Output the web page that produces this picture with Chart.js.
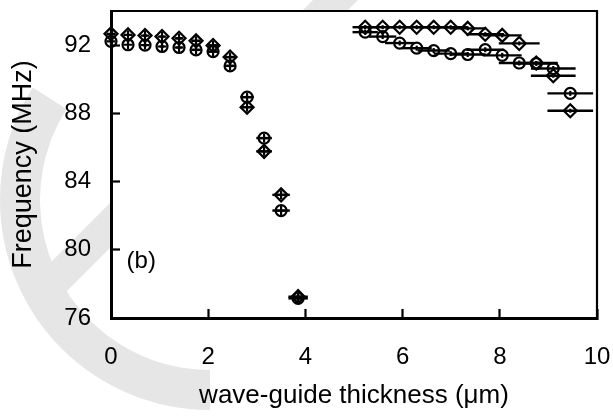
<!DOCTYPE html>
<html>
<head>
<meta charset="utf-8">
<script src="https://cdn.jsdelivr.net/npm/chart.js@4.4.1/dist/chart.umd.min.js"></script>
<style>
  html, body { margin: 0; padding: 0; background: #fff; }
  #wrap { width: 613px; height: 416px; }
</style>
</head>
<body>
<div id="wrap"><canvas id="chart" width="613" height="416"></canvas></div>
<script>
// 左側（薄い導波路）
var xLeft = [0, 0.35, 0.7, 1.05, 1.4, 1.75, 2.1, 2.45, 2.8, 3.15, 3.5, 3.85];
var circleLeft = [92.22, 92.02, 92.0, 91.92, 91.86, 91.72, 91.62, 90.78, 88.95, 86.55, 82.3, 77.15];
var diamondLeft = [92.66, 92.6, 92.56, 92.5, 92.4, 92.25, 91.98, 91.3, 88.36, 85.77, 83.22, 77.25];
var errLeft = [0, 0.02, 0.04, 0.05, 0.07, 0.09, 0.1, 0.12, 0.14, 0.16, 0.18, 0.2];

// 右側（厚い導波路）
var xRight = [5.23, 5.59, 5.94, 6.29, 6.64, 6.99, 7.34, 7.7, 8.05, 8.4, 8.75, 9.1, 9.45];
var circleRight = [92.76, 92.5, 92.12, 91.82, 91.68, 91.5, 91.45, 91.73, 91.4, 90.95, 90.92, 90.63, 89.17];
var diamondRight = [93.05, 93.05, 93.05, 93.05, 93.05, 93.05, 92.98, 92.64, 92.57, 92.1, 90.95, 90.2, 88.15];
var errRight = [0.26, 0.28, 0.3, 0.31, 0.33, 0.35, 0.37, 0.39, 0.4, 0.42, 0.44, 0.46, 0.47];

var xTicks = [0, 2, 4, 6, 8, 10];
var yTicks = [76, 80, 84, 88, 92];

var FONT = 'Liberation Sans, Arial, sans-serif';

function pts(xs, ys) {
  return xs.map(function(x, i) { return { x: x, y: ys[i] }; });
}

function marker(data, style, radius, extra) {
  var ds = {
    data: data,
    showLine: false,
    pointStyle: style,
    pointRadius: radius,
    pointHoverRadius: radius,
    pointBorderWidth: 2.2,
    pointBorderColor: '#000',
    pointBackgroundColor: 'rgba(0,0,0,0)',
    clip: false
  };
  Object.keys(extra || {}).forEach(function(k) { ds[k] = extra[k]; });
  return ds;
}

// ラベル分の余白を取らせない
function noPad(s) {
  s.paddingLeft = 0;
  s.paddingRight = 0;
  s.paddingTop = 0;
  s.paddingBottom = 0;
}

/** 背景の透かし */
var watermark = {
  id: 'watermark',
  beforeDraw: function(chart) {
    var ctx = chart.ctx;
    var a = chart.chartArea;
    ctx.save();
    ctx.fillStyle = '#fff';
    ctx.fillRect(0, 0, chart.width, chart.height);
    ctx.fillStyle = '#e6e6e6';
    ctx.beginPath();
    ctx.arc(210, 200, 210, Math.PI * 0.5, Math.PI * 1.18, false);
    ctx.arc(210, 200, 170, Math.PI * 1.18, Math.PI * 0.5, true);
    ctx.closePath();
    ctx.fill();
    ctx.beginPath();
    ctx.moveTo(313, 0);
    ctx.lineTo(358, 0);
    ctx.lineTo(60, 298);
    ctx.lineTo(30, 283);
    ctx.closePath();
    ctx.fill();
    ctx.fillStyle = '#fff';
    ctx.fillRect(a.left, a.top, a.right - a.left, a.bottom - a.top);
    ctx.restore();
  }
};

/** 横方向のエラーバー */
var errorBars = {
  id: 'errorBars',
  beforeDatasetsDraw: function(chart) {
    var ctx = chart.ctx;
    var xs = chart.scales.x, ys = chart.scales.y;
    ctx.save();
    ctx.strokeStyle = '#000';
    ctx.lineWidth = 2.4;
    chart.data.datasets.forEach(function(ds) {
      if (!ds.xErr) return;
      ds.data.forEach(function(p, i) {
        var e = ds.xErr[i];
        if (!e) return;
        var py = ys.getPixelForValue(p.y);
        ctx.beginPath();
        ctx.moveTo(xs.getPixelForValue(p.x - e), py);
        ctx.lineTo(xs.getPixelForValue(p.x + e), py);
        ctx.stroke();
      });
    });
    ctx.restore();
  }
};

/** 上と右の枠線、(b) ラベル */
var frame = {
  id: 'frame',
  afterDraw: function(chart) {
    var ctx = chart.ctx;
    var a = chart.chartArea;
    ctx.save();
    ctx.strokeStyle = '#000';
    ctx.lineWidth = 2.2;
    ctx.beginPath();
    ctx.moveTo(a.left, a.top);
    ctx.lineTo(a.right, a.top);
    ctx.lineTo(a.right, a.bottom);
    ctx.stroke();
    ctx.fillStyle = '#000';
    ctx.font = '24px ' + FONT;
    ctx.textAlign = 'left';
    ctx.textBaseline = 'middle';
    ctx.fillText('(b)', chart.scales.x.getPixelForValue(0.32), chart.scales.y.getPixelForValue(79.3));
    ctx.restore();
  }
};

var left = pts(xLeft, circleLeft);
var leftD = pts(xLeft, diamondLeft);
var right = pts(xRight, circleRight);
var rightD = pts(xRight, diamondRight);

new Chart(document.getElementById('chart'), {
  type: 'scatter',
  data: {
    datasets: [
      marker(left, 'circle', 5.5, { xErr: errLeft }),
      marker(left, 'cross', 4.5),
      marker(leftD, 'rectRot', 6.5, { xErr: errLeft }),
      marker(leftD, 'cross', 4.5),
      marker(right, 'circle', 5.5, { xErr: errRight }),
      marker(right, 'line', 2.5, { pointRotation: 90 }),
      marker(rightD, 'rectRot', 6.5, { xErr: errRight }),
      marker(rightD, 'line', 2, { pointRotation: 90 })
    ]
  },
  options: {
    responsive: false,
    animation: false,
    devicePixelRatio: 1,
    layout: { padding: { left: 0, top: 11, right: 16, bottom: 0 } },
    plugins: {
      legend: { display: false },
      tooltip: { enabled: false }
    },
    scales: {
      x: {
        type: 'linear',
        min: 0,
        max: 10,
        afterFit: function(s) { s.height = 98; noPad(s); },
        afterBuildTicks: function(s) { s.ticks = xTicks.map(function(v) { return { value: v }; }); },
        border: { color: '#000', width: 3 },
        grid: { drawOnChartArea: false, tickLength: -9, tickWidth: 2.2, tickColor: '#000' },
        ticks: { color: '#000', font: { family: FONT, size: 24 }, padding: 34, maxRotation: 0 },
        title: {
          display: true,
          text: 'wave-guide thickness (\u03bcm)',
          color: '#000',
          font: { family: FONT, size: 26 },
          padding: { top: 0, bottom: 5 }
        }
      },
      y: {
        type: 'linear',
        min: 76,
        max: 94,
        afterFit: function(s) { s.width = 111; noPad(s); },
        afterBuildTicks: function(s) { s.ticks = yTicks.map(function(v) { return { value: v }; }); },
        border: { color: '#000', width: 3 },
        grid: { drawOnChartArea: false, tickLength: -9, tickWidth: 2.2, tickColor: '#000' },
        ticks: { color: '#000', font: { family: FONT, size: 24 }, padding: 29 },
        title: {
          display: true,
          text: 'Frequency (MHz)',
          color: '#000',
          font: { family: FONT, size: 27 },
          padding: { top: 7, bottom: 0 }
        }
      }
    }
  },
  plugins: [watermark, errorBars, frame]
});
</script>
</body>
</html>
